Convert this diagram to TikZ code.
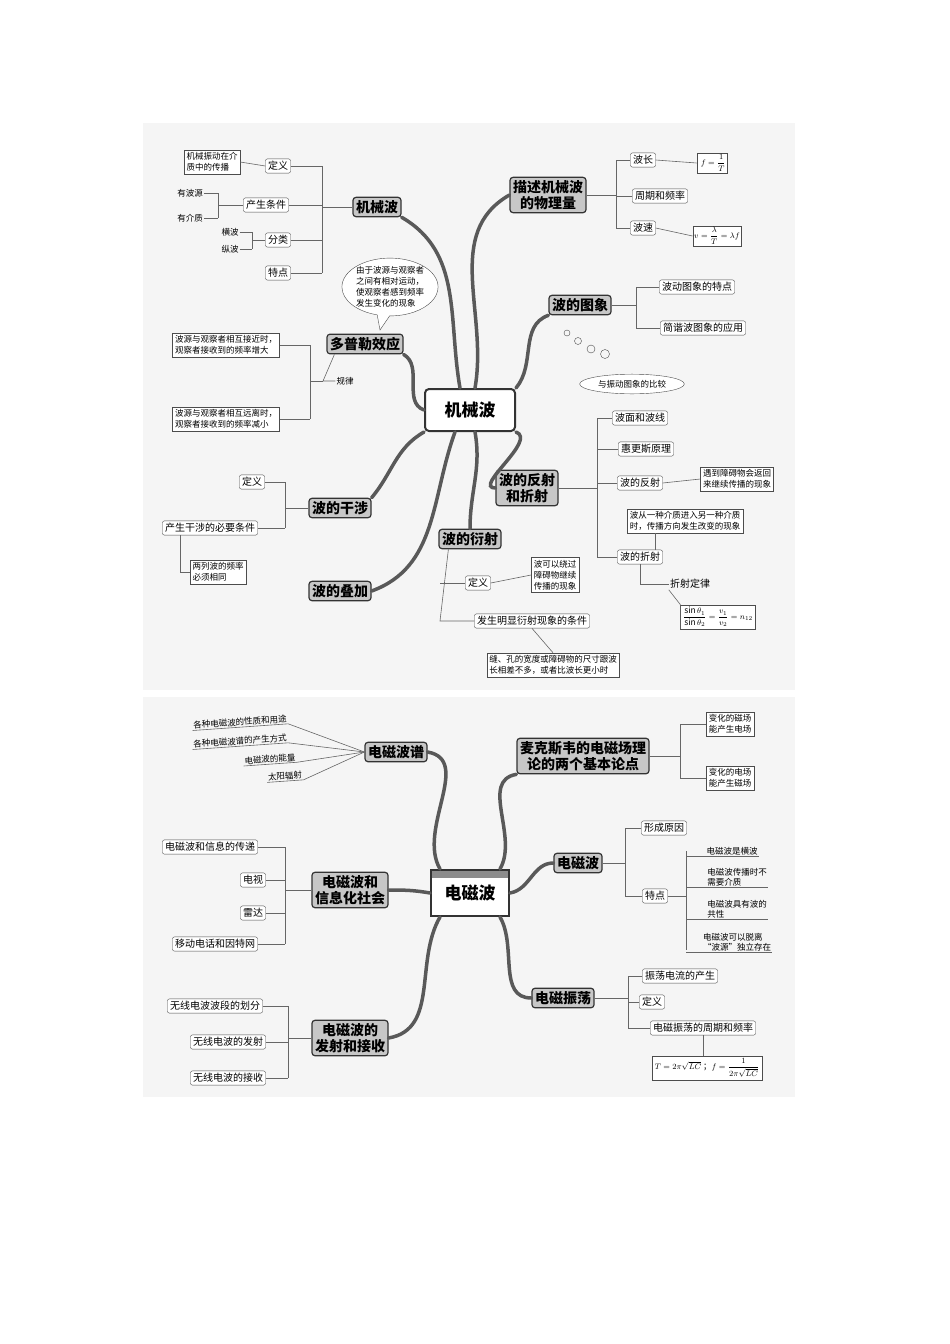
\documentclass[tikz,border=0pt]{standalone}
\usepackage{amsmath}
\usepackage{fontspec}
\setmainfont{Noto Sans CJK SC}
\usetikzlibrary{shapes.geometric,shapes.callouts}
\begin{document}
\begin{tikzpicture}[x=1pt,y=-1pt,
 mainbox/.style={draw=black!80,fill=black!22,rounded corners=3pt,line width=1.2pt,font=\bfseries\fontsize{14}{16}\selectfont,align=center,inner sep=3pt},
 sub/.style={draw=black!70,rounded corners=2pt,font=\fontsize{10}{12}\selectfont,align=center,inner sep=2.5pt,fill=white},
 note/.style={draw=black!70,font=\fontsize{8.5}{11}\selectfont,align=left,inner sep=2.5pt,fill=white},
 txt/.style={font=\fontsize{8.5}{10}\selectfont,inner sep=1pt},
 branch/.style={line width=3.5pt,black!65,line cap=round},
 ln/.style={black!60,line width=0.6pt}]
\useasboundingbox (0,0) rectangle (950,1344);
\fill[black!4] (143,123) rectangle (795,690);
\fill[black!4] (143,697) rectangle (795,1097);
%================ TOP ================
\node[draw=black!80,fill=white,line width=2pt,rounded corners=4pt,minimum width=90pt,minimum height=42pt,font=\bfseries\fontsize{17}{20}\selectfont] (c1) at (470,410) {机械波};
\node[mainbox] (jxb) at (377,207) {机械波};
\node[sub] (dy1) at (278,166) {定义};
\node[sub] (cs) at (266,205) {产生条件};
\node[sub] (fl) at (278,240) {分类};
\node[sub] (td) at (278,273) {特点};
\node[note] (jz) at (212,162) {机械振动在介\\质中的传播};
\node[txt] (ybo) at (190,193) {有波源};
\node[txt] (yjz) at (190,218) {有介质};
\node[txt] (hb) at (230,232) {横波};
\node[txt] (zb) at (230,249) {纵波};
\draw[ln] (jxb.west) -- (322,207);
\draw[ln] (322,166) -- (322,273);
\foreach \n in {dy1,cs,fl,td} \draw[ln] (\n.east) -- (\n.east -| 322,0);
\draw[ln] (dy1.west) -- (jz.east);
\draw[ln] (cs.west) -- (218,205); \draw[ln] (218,193) -- (218,218);
\draw[ln] (ybo.east) -- (218,193); \draw[ln] (yjz.east) -- (218,218);
\draw[ln] (fl.west) -- (252,240); \draw[ln] (252,232) -- (252,249);
\draw[ln] (hb.east) -- (252,232); \draw[ln] (zb.east) -- (252,249);

\node[mainbox] (ms) at (548,195) {描述机械波\\的物理量};
\node[sub] (bc) at (643,160) {波长};
\node[sub] (zq) at (660,196) {周期和频率};
\node[sub] (bs) at (643,228) {波速};
\node[note,inner sep=1.5pt] (f1) at (712,163) {$\dfrac{}{}f=\dfrac{1}{T}$};
\node[note,inner sep=1.5pt] (v1) at (717,236) {$v=\dfrac{\lambda}{T}=\lambda f$};
\draw[ln] (ms.east) -- (616,195); \draw[ln] (616,160) -- (616,228);
\foreach \n in {bc,zq,bs} \draw[ln] (\n.west) -- (\n.west -| 616,0);
\draw[ln] (bc.east) -- (f1.west); \draw[ln] (bs.east) -- (v1.west);

\node[mainbox] (tx) at (580,305) {波的图象};
\node[sub] (td2) at (697,287) {波动图象的特点};
\node[sub] (yy) at (703,328) {简谐波图象的应用};
\draw[ln] (tx.east) -- (636,305); \draw[ln] (636,287) -- (636,328);
\draw[ln] (td2.west) -- (636,287); \draw[ln] (yy.west) -- (636,328);
\foreach \x/\y/\r in {567/333/3,578/341/3.5,591/349/4,605/354/4.5} \draw[black!70] (\x,\y) circle (\r);
\node[ellipse,draw=black!70,fill=white,font=\fontsize{8.5}{10}\selectfont,inner sep=3pt] (bj) at (632,384) {与振动图象的比较};

\node[ellipse callout,draw=black!70,fill=white,font=\fontsize{8.5}{11}\selectfont,align=left,inner sep=0pt,callout absolute pointer={(380,330)}] (pp) at (390,287) {由于波源与观察者\\之间有相对运动，\\使观察者感到频率\\发生变化的现象};
\node[mainbox] (db) at (365,344) {多普勒效应};
\node[note] (jj) at (226,345) {波源与观察者相互接近时，\\观察者接收到的频率增大};
\node[note] (yl) at (226,419) {波源与观察者相互远离时，\\观察者接收到的频率减小};
\node[txt] (gl) at (345,381) {规律};
\draw[ln] (db.south west) ++(8,0) -- (323,381) -- (gl.west);
\draw[ln] (310,345) -- (310,419);
\draw[ln] (jj.east) -- (310,345); \draw[ln] (yl.east) -- (310,419);
\draw[ln] (310,381) -- (323,381);

\node[mainbox] (fs) at (527,488) {波的反射\\和折射};
\node[sub] (bm) at (640,418) {波面和波线};
\node[sub] (hg) at (646,449) {惠更斯原理};
\node[sub] (fs1) at (640,483) {波的反射};
\node[note] (fs1n) at (737,479) {遇到障碍物会返回\\来继续传播的现象};
\node[note] (zs1n) at (685,521) {波从一种介质进入另一种介质\\时，传播方向发生改变的现象};
\node[sub] (zs1) at (640,557) {波的折射};
\node[txt,font=\fontsize{10}{12}\selectfont] (zsdl) at (690,584) {折射定律};
\node[note] (zsf) at (718,617) {$\dfrac{\sin\theta_1}{\sin\theta_2}=\dfrac{v_1}{v_2}=n_{12}$};
\draw[ln] (fs.east) -- (597,488); \draw[ln] (597,418) -- (597,557);
\foreach \n in {bm,hg,fs1,zs1} \draw[ln] (\n.west) -- (\n.west -| 597,0);
\draw[ln] (fs1.east) -- (fs1n.west);
\draw[ln] (zs1.north) ++(15,0) -- (zs1n.south -| 655,0);
\draw[ln] (zs1.south) -- (640,584) -- (zsdl.west);
\draw[ln] (zsdl.south west) -- (zsf.north west) -- (zsf.south west);

\node[mainbox] (gs) at (340,508) {波的干涉};
\node[sub] (dy2) at (252,482) {定义};
\node[sub] (bt) at (210,528) {产生干涉的必要条件};
\node[note] (lb) at (218,572) {两列波的频率\\必须相同};
\draw[ln] (gs.west) -- (285,508); \draw[ln] (285,482) -- (285,528);
\draw[ln] (dy2.east) -- (285,482); \draw[ln] (bt.east) -- (285,528);
\draw[ln] (bt.south) ++(-30,0) -- (180,572) -- (lb.west);
\node[mainbox] (dj) at (340,591) {波的叠加};

\node[mainbox] (ys) at (470,539) {波的衍射};
\node[sub] (dy3) at (478,583) {定义};
\node[note] (ysn) at (555,575) {波可以绕过\\障碍物继续\\传播的现象};
\node[sub] (tj) at (532,621) {发生明显衍射现象的条件};
\node[note] (tjn) at (553,665) {缝、孔的宽度或障碍物的尺寸跟波\\长相差不多，或者比波长更小时};
\draw[ln] (ys.south west) ++(10,0) -- (440,621) -- (tj.west);
\draw[ln] (440,583) -- (dy3.west);
\draw[ln] (dy3.east) -- (ysn.west);
\draw[ln] (tj.south) -- (tjn.north);

% branches top
\draw[branch] (c1.north) ++(-10,0) to[out=100,in=-30] (jxb.south east);
\draw[branch] (c1.north) ++(5,0) to[out=80,in=-150] (ms.west);
\draw[branch] (c1.north east) to[out=50,in=-160] (tx.south west);
\draw[branch] (c1.west) to[out=160,in=-30] (db.south east);
\draw[branch] (c1.south east) to[out=-20,in=180] (fs.west);
\draw[branch] (c1.south west) to[out=-150,in=50] (gs.north east);
\draw[branch] (c1.south) ++(-15,0) to[out=-110,in=20] (dj.east);
\draw[branch] (c1.south) ++(5,0) to[out=-80,in=90] (ys.north);
%================ BOTTOM ================
\node[draw=black!80,fill=white,line width=2pt,minimum width=78pt,minimum height=46pt,font=\bfseries\fontsize{17}{20}\selectfont] (c2) at (470,893) {\raisebox{-4pt}{电磁波}};
\fill[black!45] (c2.north west) ++(2,2) rectangle ([xshift=-2pt,yshift=-9pt]c2.north east);

\node[mainbox] (pu) at (396,752) {电磁波谱};
\node[txt,rotate=4] (p1) at (240,722) {各种电磁波的性质和用途};
\node[txt,rotate=4] (p2) at (240,741) {各种电磁波谱的产生方式};
\node[txt,rotate=4] (p3) at (270,759) {电磁波的能量};
\node[txt,rotate=4] (p4) at (285,776) {太阳辐射};
\foreach \n in {p1,p2,p3,p4} {\draw[ln] (\n.south west) -- (\n.south east) -- (pu.west);}

\node[mainbox] (mk) at (583,756) {麦克斯韦的电磁场理\\论的两个基本论点};
\node[note] (m1) at (730,724) {变化的磁场\\能产生电场};
\node[note] (m2) at (730,778) {变化的电场\\能产生磁场};
\draw[ln] (mk.east) -- (680,756); \draw[ln] (680,724) -- (680,778);
\draw[ln] (m1.west) -- (680,724); \draw[ln] (m2.west) -- (680,778);

\node[mainbox] (dc) at (578,863) {电磁波};
\node[sub] (yy2) at (664,828) {形成原因};
\node[sub] (td3) at (655,896) {特点};
\node[txt] (t1) at (732,851) {电磁波是横波};
\node[txt,align=left] (t2) at (737,877) {电磁波传播时不\\需要介质};
\node[txt,align=left] (t3) at (737,909) {电磁波具有波的\\共性};
\node[txt,align=left] (t4) at (737,942) {电磁波可以脱离\\“波源”独立存在};
\draw[ln] (dc.east) -- (625,863); \draw[ln] (625,828) -- (625,896);
\draw[ln] (yy2.west) -- (625,828); \draw[ln] (td3.west) -- (625,896);
\draw[ln] (td3.east) -- (686,896); \draw[ln] (686,851) -- (686,950);
\foreach \n in {t1,t2,t3,t4} \draw[ln] (\n.south west) -- (\n.south east) (\n.south west) -- (\n.south west -| 686,0);

\node[mainbox] (xx) at (350,890) {电磁波和\\信息化社会};
\node[sub] (x1) at (210,847) {电磁波和信息的传递};
\node[sub] (x2) at (253,880) {电视};
\node[sub] (x3) at (253,913) {雷达};
\node[sub] (x4) at (215,944) {移动电话和因特网};
\draw[ln] (xx.west) -- (285,890); \draw[ln] (285,847) -- (285,944);
\foreach \n in {x1,x2,x3,x4} \draw[ln] (\n.east) -- (\n.east -| 285,0);

\node[mainbox] (zd) at (563,998) {电磁振荡};
\node[sub] (z1) at (680,976) {振荡电流的产生};
\node[sub] (z2) at (652,1002) {定义};
\node[sub] (z3) at (703,1028) {电磁振荡的周期和频率};
\node[note,inner sep=3pt] (zf) at (707,1068) {$T=2\pi\sqrt{LC}$\ ；$f=\dfrac{1}{2\pi\sqrt{LC}}$};
\draw[ln] (zd.east) -- (628,998); \draw[ln] (628,976) -- (628,1028);
\foreach \n in {z1,z2,z3} \draw[ln] (\n.west) -- (\n.west -| 628,0);
\draw[ln] (z3.south) -- (zf.north -| z3.south);

\node[mainbox] (fj) at (350,1038) {电磁波的\\发射和接收};
\node[sub] (f1b) at (215,1006) {无线电波波段的划分};
\node[sub] (f2b) at (228,1042) {无线电波的发射};
\node[sub] (f3b) at (228,1078) {无线电波的接收};
\draw[ln] (fj.west) -- (288,1038); \draw[ln] (288,1006) -- (288,1078);
\foreach \n in {f1b,f2b,f3b} \draw[ln] (\n.east) -- (\n.east -| 288,0);

% branches bottom
\draw[branch] (c2.north west) ++(10,0) to[out=120,in=-10] (pu.east);
\draw[branch] (c2.north east) ++(-10,0) to[out=60,in=-170] (mk.south west);
\draw[branch] (c2.east) to[out=10,in=180] (dc.west);
\draw[branch] (c2.west) to[out=170,in=0] (xx.east);
\draw[branch] (c2.south east) ++(-10,0) to[out=-60,in=180] (zd.west);
\draw[branch] (c2.south west) ++(10,0) to[out=-120,in=10] (fj.east);
\end{tikzpicture}
\end{document}
